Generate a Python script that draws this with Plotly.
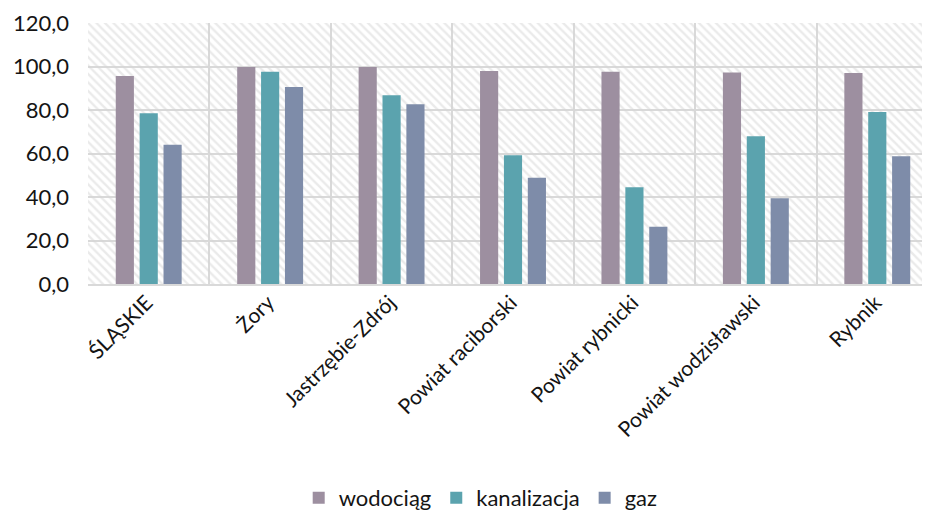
import plotly.graph_objects as go

# Udział ludności korzystającej z sieci (%)
categories = ["ŚLĄSKIE", "Żory", "Jastrzębie-Zdrój", "Powiat raciborski",
              "Powiat rybnicki", "Powiat wodzisławski", "Rybnik"]
wodociag = [95.6, 99.8, 99.8, 97.9, 97.6, 97.2, 97.0]
kanalizacja = [78.5, 97.6, 86.8, 59.2, 44.5, 67.9, 79.1]
gaz = [64.0, 90.6, 82.6, 48.9, 26.3, 39.4, 58.7]

series = [("wodociąg", wodociag, "#9d8fa0"),
          ("kanalizacja", kanalizacja, "#5ba3ae"),
          ("gaz", gaz, "#7e8ca9")]

FONT = "Lato, 'Open Sans', sans-serif"
GRID = "#d9d9d9"

fig = go.Figure()

# hatched plot background (base subplot, drawn under the bars)
fig.add_trace(go.Bar(
    x=[0.5], y=[120], width=[1], xaxis="x", yaxis="y",
    marker=dict(color="rgba(0,0,0,0)", line=dict(width=0),
                pattern=dict(shape="\\", fgcolor="#d6d6d6", size=6, solidity=0.4)),
    showlegend=False, hoverinfo="skip",
))

for name, vals, col in series:
    fig.add_trace(go.Bar(
        x=categories, y=vals, name=name, xaxis="x2", yaxis="y",
        marker=dict(color=col, line=dict(width=0)),
    ))

# the page body adds an 8px offset, margins are set with that in mind;
# the plot area runs past the right edge like in the original
fig.update_layout(
    width=930, height=513,
    margin=dict(l=80, r=0, t=15, b=237, autoexpand=False),
    paper_bgcolor="white", plot_bgcolor="white",
    font=dict(family=FONT, size=22, color="#141414"),
    separators=", ",
    barmode="group", bargap=0.41, bargroupgap=0.24,
    xaxis=dict(range=[0, 1], visible=False, showgrid=False, automargin=False),
    xaxis2=dict(overlaying="x", anchor="y", side="bottom", type="category",
                range=[-0.5, 6.5], tickson="boundaries", ticks="",
                showgrid=True, gridcolor=GRID, gridwidth=2,
                showline=True, linecolor=GRID, linewidth=2,
                tickangle=-45, tickfont=dict(size=21), automargin=False,
                ticklabelstandoff=-4, ticklabelshift=-2),
    yaxis=dict(range=[0, 120], dtick=20, tickformat=".1f",
               showgrid=True, gridcolor=GRID, gridwidth=2,
               zeroline=False, ticks="", ticklabelstandoff=18,
               tickfont=dict(size=22), automargin=False),
    legend=dict(orientation="h", x=0.462, xanchor="center",
                y=-0.82, yanchor="middle", font=dict(size=22),
                itemwidth=30, traceorder="normal"),
    showlegend=True,
)

fig.write_html("out.html")
